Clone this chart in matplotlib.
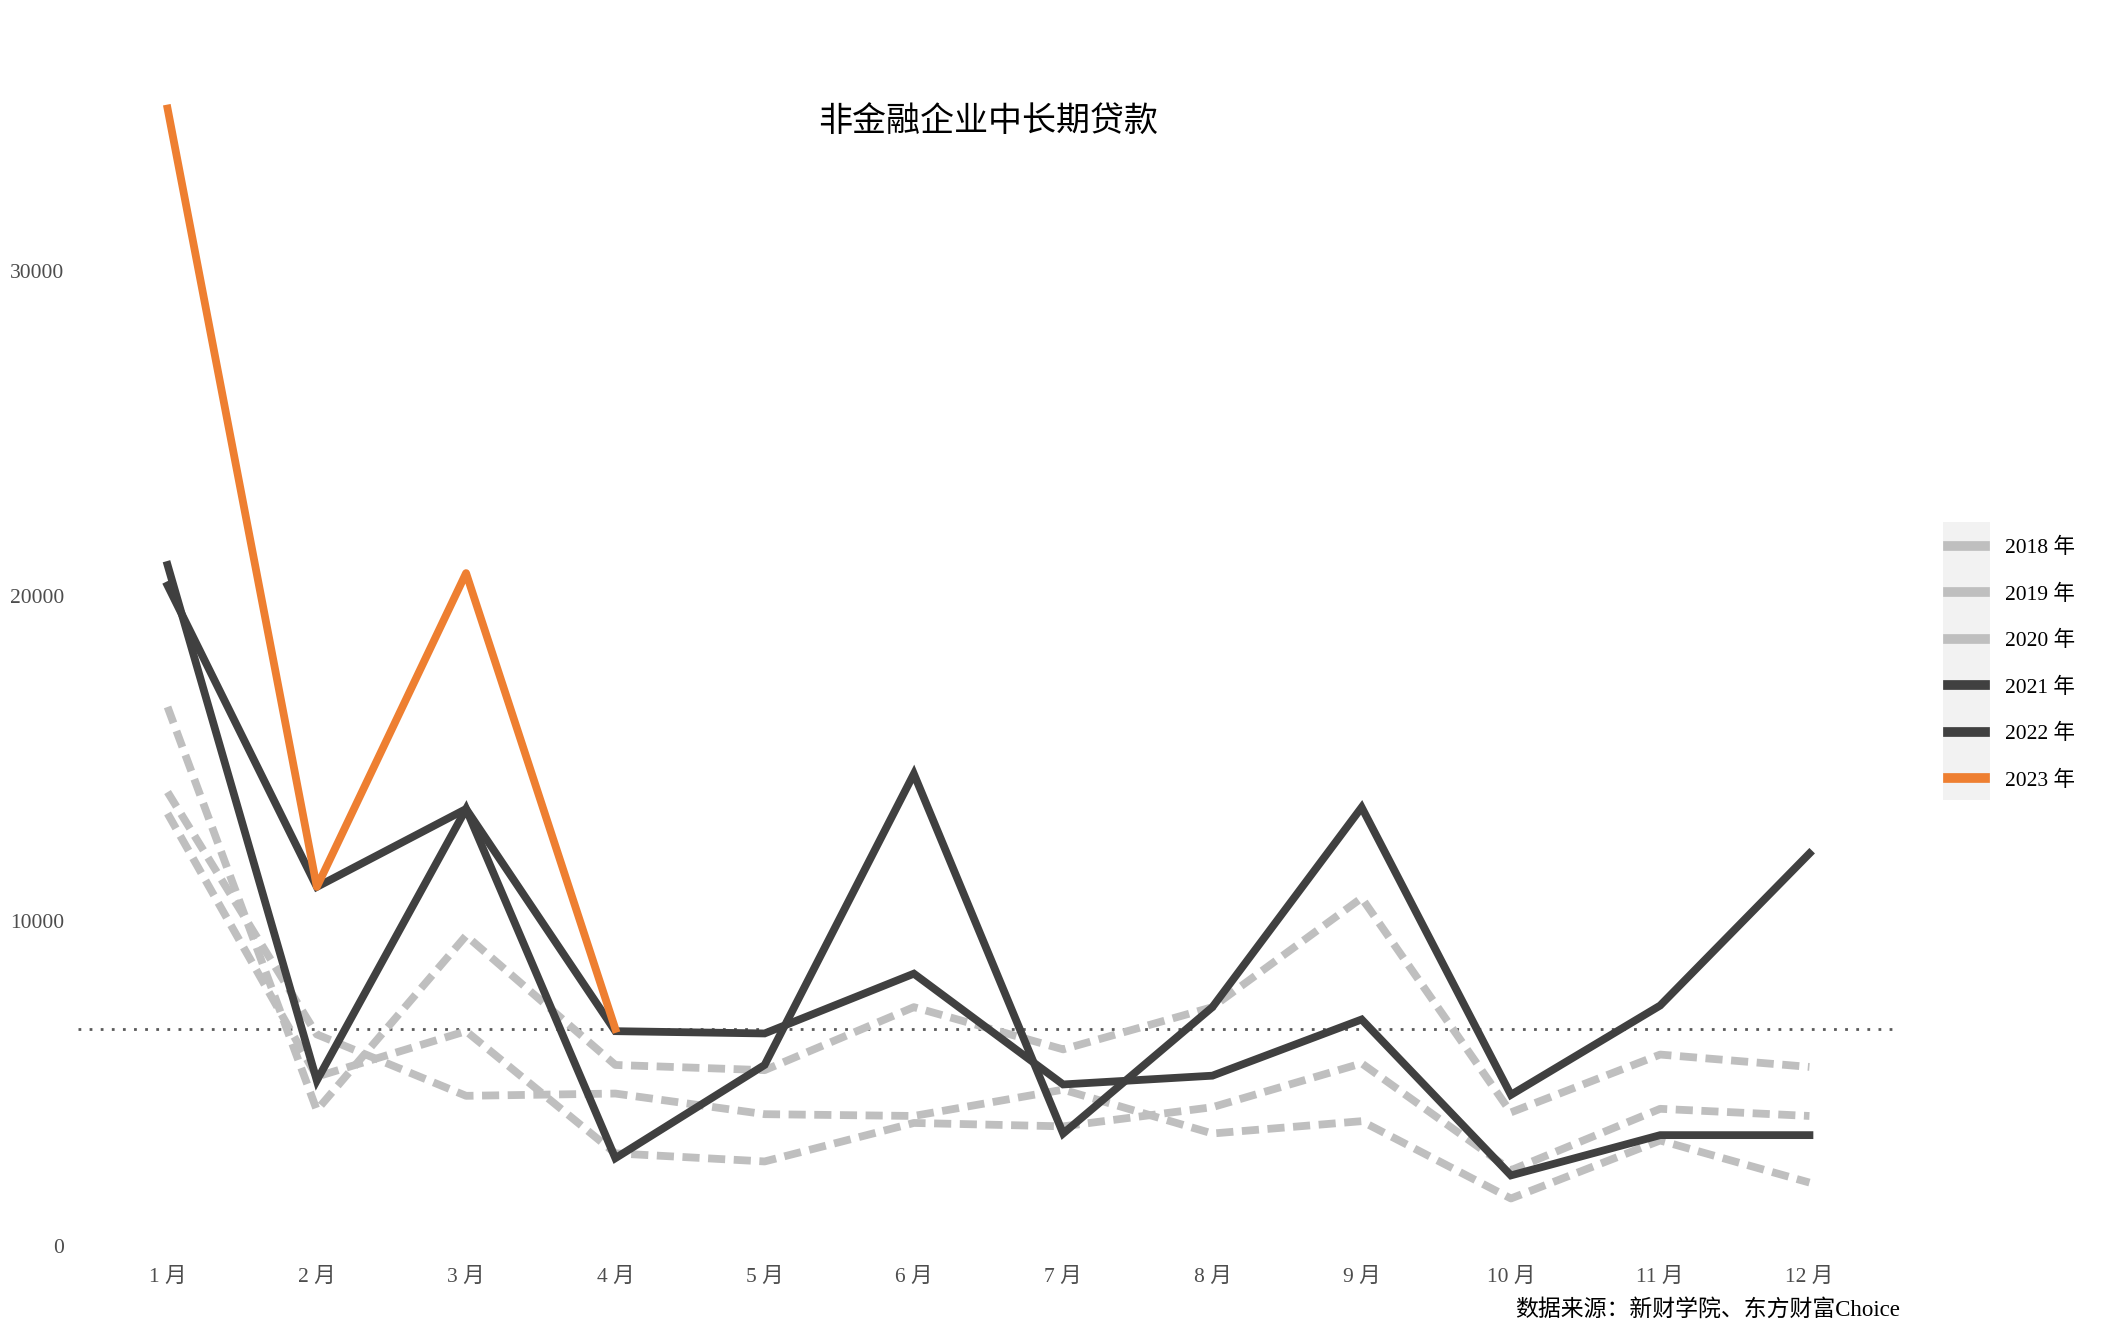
import matplotlib
matplotlib.use("Agg")
import matplotlib.pyplot as plt
from matplotlib.patches import Rectangle

plt.rcParams['font.family'] = ['Liberation Serif', 'Noto Sans CJK SC']

# 数据（亿元）
months = list(range(1, 13))
month_labels = [f"{m} 月" for m in months]
y2018 = [13960, 6500, 4610, 4680, 4045, 3990, 4800, 3450, 3830, 1450, 3235, 1940]
y2019 = [13300, 5200, 6600, 2840, 2590, 3775, 3670, 4260, 5610, 2320, 4210, 3990]
y2020 = [16580, 4170, 9540, 5560, 5400, 7340, 6040, 7340, 10700, 4100, 5880, 5500]
y2021 = [20320, 11040, 13440, 6600, 6530, 8370, 4960, 5230, 6960, 2160, 3400, 3400]
y2022 = [20950, 5080, 13440, 2690, 5560, 14520, 3450, 7340, 13490, 4640, 7390, 12070]
y2023 = [35000, 11040, 20700, 6670]
years = ["2018 年", "2019 年", "2020 年", "2021 年", "2022 年", "2023 年"]

gray = '#bfbfbf'
dark = '#404040'
orange = '#ee7f31'
tick_color = '#4d4d4d'

W, H = 2101, 1329
fig = plt.figure(figsize=(W / 100, H / 100), dpi=100)
ax = fig.add_axes([78 / W, 1 - 1253 / H, (1899 - 78) / W, (1253 - 54) / H])

lw = 5.6
handles = []
for vals, lab in zip([y2018, y2019, y2020], years[:3]):
    ln, = ax.plot(months, vals, color=gray, lw=lw, dashes=(2.2, 1.1), label=lab)
    handles.append(ln)
for vals, lab in zip([y2021, y2022], years[3:5]):
    ln, = ax.plot(months, vals, color=dark, lw=lw, label=lab, solid_joinstyle='miter')
    handles.append(ln)
ln, = ax.plot(months[:len(y2023)], y2023, color=orange, lw=lw, label=years[5])
handles.append(ln)

# 参考线：2023 年最新月份
ax.axhline(y2023[-1], color='#5a5a5a', lw=2, dashes=(1, 3), zorder=1)

ax.set_xlim(0.4, 12.6)
ax.set_ylim(-228, 36678)
ax.set_xticks(months)
ax.set_xticklabels(month_labels)
ax.set_yticks([0, 10000, 20000, 30000])
ax.set_yticklabels(["0", "10000", "20000", "30000"])
ax.tick_params(length=0, labelsize=15.5, labelcolor=tick_color)
ax.tick_params(axis='y', pad=10)
ax.tick_params(axis='x', pad=11)
for s in ax.spines.values():
    s.set_visible(False)

fig.text(988 / W, 1 - 122 / H, "非金融企业中长期贷款", ha='center', va='center',
         fontsize=24.5, color='black')
fig.text(1900 / W, 1 - 1310 / H, "数据来源：新财学院、东方财富Choice",
         ha='right', va='center', fontsize=16.5, color='black')

# 图例：只在图例键后面铺浅灰底
legend_handles = [plt.Line2D([], [], color=h.get_color(), lw=7) for h in handles]
leg = fig.legend(legend_handles, years, loc='upper left',
                 bbox_to_anchor=(1948 / W, 1 - 538 / H), frameon=False,
                 borderpad=0, handlelength=1.72, handletextpad=0.95,
                 labelspacing=1.22, fontsize=15.5, borderaxespad=0)

fig.canvas.draw()
r = fig.canvas.get_renderer()
exts = [h.get_window_extent(r) for h in leg.legend_handles]
x0 = min(e.x0 for e in exts) - 5
x1 = max(e.x1 for e in exts) + 5
y0 = min((e.y0 + e.y1) / 2 for e in exts) - 22
y1 = max((e.y0 + e.y1) / 2 for e in exts) + 24
fig.add_artist(Rectangle((x0 / W, y0 / H), (x1 - x0) / W, (y1 - y0) / H,
                         transform=fig.transFigure, facecolor='#f2f2f2',
                         edgecolor='none', zorder=0))

fig.savefig("out.png", dpi=100)
